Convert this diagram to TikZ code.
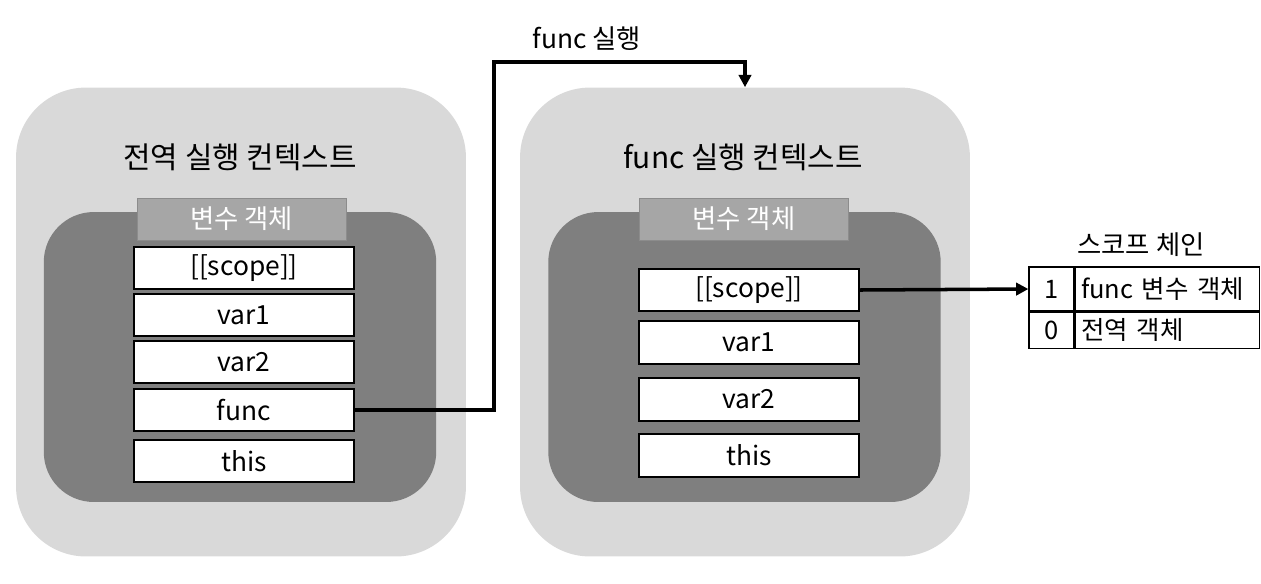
\documentclass[tikz,border=0pt]{standalone}
\usepackage{fontspec}
\setmainfont{Noto Sans CJK KR}
\usepackage{tikz}
\usetikzlibrary{arrows.meta, positioning, calc}
\definecolor{ctxLight}{HTML}{D9D9D9}
\definecolor{ctxDark}{HTML}{7F7F7F}
\definecolor{voHead}{HTML}{A6A6A6}
\definecolor{voEdge}{HTML}{8C8C8C}

\tikzset{
  ctxbox/.style={fill=ctxLight, rounded corners=1.4cm, minimum width=9cm, minimum height=9.38cm},
  vobox/.style={fill=ctxDark, rounded corners=1cm, minimum width=7.85cm, minimum height=5.8cm},
  vohead/.style={fill=voHead, draw=voEdge, minimum width=4.18cm, minimum height=0.84cm,
    text=white, font=\fontsize{15}{18}\selectfont},
  slot/.style={fill=white, draw=black, line width=0.8pt, minimum width=4.4cm, minimum height=0.84cm,
    font=\fontsize{15}{18}\selectfont, inner sep=0pt},
  cell/.style={draw=black, line width=0.7pt, inner sep=0pt, font=\fontsize{14.5}{17}\selectfont},
  title/.style={font=\fontsize{17}{20}\selectfont},
  conn/.style={line width=2pt, -{Triangle[length=7pt,width=7pt]}}
}

\begin{document}
\begin{tikzpicture}[x=0.02cm, y=-0.02cm]
  \useasboundingbox (0,0) rectangle (1261,583);
  % global context
  \node[ctxbox] (gctx) at (241,322) {};
  \node[vobox] (gvo) at (240,357) {};
  \node[title] (gtitle) at (240,157) {전역 실행 컨텍스트};
  \node[vohead] (ghead) at (241.5,219) {변수 객체};
  \node[slot] (gscope) at (244,268) {[[scope]]};
  \node[slot] (gvar1) at (244,315) {var1};
  \node[slot] (gvar2) at (244,362) {var2};
  \node[slot] (gfunc) at (244,410) {func};
  \node[slot] (gthis) at (244,461) {this};
  % func context
  \node[ctxbox] (fctx) at (745,322) {};
  \node[vobox] (fvo) at (744.5,357) {};
  \node[title] (ftitle) at (743,157) {func 실행 컨텍스트};
  \node[vohead] (fhead) at (744,219) {변수 객체};
  \node[slot] (fscope) at (749,290) {[[scope]]};
  \node[slot, minimum height=0.86cm] (fvar1) at (749,342.5) {var1};
  \node[slot, minimum height=0.86cm] (fvar2) at (749,399.5) {var2};
  \node[slot, minimum height=0.86cm] (fthis) at (749,455.5) {this};
  % scope chain
  \node[font=\fontsize{15}{18}\selectfont] (chaintitle) at (1141,245) {스코프 체인};
  \node[cell, minimum width=0.9cm, minimum height=0.88cm] (c1) at (1051.5,289) {1};
  \node[cell, minimum width=3.68cm, minimum height=0.88cm, anchor=west, text width=3.44cm, inner xsep=0.12cm]
    (t1) at (c1.east) {func 변수 객체};
  \node[cell, minimum width=0.9cm, minimum height=0.72cm, below=0pt of c1] (c0) {0};
  \node[cell, minimum width=3.68cm, minimum height=0.72cm, anchor=west, text width=3.44cm, inner xsep=0.12cm]
    (t0) at (c0.east) {전역 객체};
  % connectors
  \coordinate (bend) at (494,62);
  \draw[conn] (gfunc.east) -| (bend) -| (fctx.north);
  \node[font=\fontsize{15}{18}\selectfont] (calllabel) at (587,39) {func 실행};
  \draw[conn] (fscope.east) -- (c1.west);
\end{tikzpicture}
\end{document}
